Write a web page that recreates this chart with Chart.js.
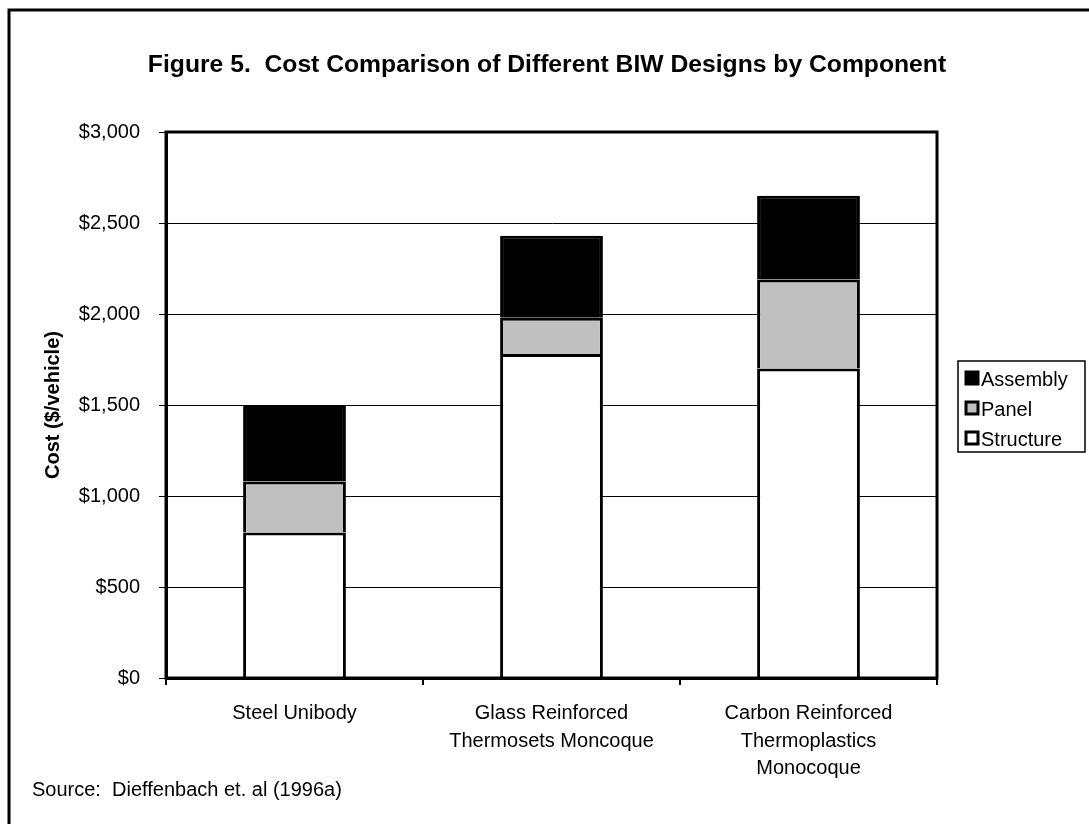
<!DOCTYPE html>
<html>
<head>
<meta charset="utf-8">
<title>Figure 5</title>
<script src="https://cdn.jsdelivr.net/npm/chart.js@4/dist/chart.umd.min.js"></script>
<style>
  body { margin: 0; background: #fff; }
  #chart { display: block; }
</style>
</head>
<body>
<canvas id="chart" width="1089" height="824"></canvas>
<script>
// chart data
const designs = [
  ['Steel Unibody'],
  ['Glass Reinforced', 'Thermosets Moncoque'],
  ['Carbon Reinforced', 'Thermoplastics', 'Monocoque']
];
const structureCost = [800, 1780, 1700];
const panelCost = [280, 200, 490];
const assemblyCost = [420, 450, 460];
const yTicks = [0, 500, 1000, 1500, 2000, 2500, 3000];

const titleText = 'Figure 5.  Cost Comparison of Different BIW Designs by Component';
const sourceText = 'Source:  Dieffenbach et. al (1996a)';
const FONT = '"Liberation Sans", Arial, sans-serif';

Chart.defaults.font.family = FONT;
Chart.defaults.color = '#000';

// frame, title, source note, plot box and legend drawn on the canvas
const decorations = {
  id: 'decorations',
  afterDraw(chart) {
    const ctx = chart.ctx;
    const area = chart.chartArea;
    ctx.save();

    // outer frame (only top and left edges fall inside the picture)
    ctx.strokeStyle = '#000';
    ctx.lineWidth = 3;
    ctx.beginPath();
    ctx.moveTo(9, chart.height);
    ctx.lineTo(9, 10);
    ctx.lineTo(chart.width, 10);
    ctx.stroke();

    // plot box
    ctx.lineWidth = 3;
    ctx.strokeRect(area.left, area.top, area.right - area.left, area.bottom - area.top);

    // title
    ctx.fillStyle = '#000';
    ctx.font = 'bold 24.7px ' + FONT;
    ctx.textAlign = 'center';
    ctx.textBaseline = 'alphabetic';
    ctx.fillText(titleText, 547, 72);

    // source
    ctx.font = '20px ' + FONT;
    ctx.textAlign = 'left';
    ctx.textBaseline = 'middle';
    ctx.fillText(sourceText, 32, 790);

    // legend, reverse order like the stack
    const items = chart.data.datasets.slice().reverse();
    const boxLeft = 958, boxRight = 1085, rowH = 30, firstY = 378;
    const boxTop = firstY - 17, boxBottom = firstY + rowH * (items.length - 1) + 14;
    ctx.lineWidth = 1.5;
    ctx.strokeRect(boxLeft, boxTop, boxRight - boxLeft, boxBottom - boxTop);
    items.forEach((ds, i) => {
      const cy = firstY + i * rowH;
      ctx.fillStyle = ds.backgroundColor;
      ctx.fillRect(966, cy - 6, 12, 12);
      ctx.lineWidth = 3;
      ctx.strokeStyle = '#000';
      ctx.strokeRect(966, cy - 6, 12, 12);
      ctx.fillStyle = '#000';
      ctx.font = '20px ' + FONT;
      ctx.fillText(ds.label, 981, cy + 2);
    });

    ctx.restore();
  }
};

new Chart(document.getElementById('chart'), {
  type: 'bar',
  data: {
    labels: designs,
    datasets: [
      { label: 'Structure', data: structureCost, backgroundColor: '#ffffff' },
      { label: 'Panel', data: panelCost, backgroundColor: '#c0c0c0' },
      { label: 'Assembly', data: assemblyCost, backgroundColor: '#000000' }
    ]
  },
  options: {
    responsive: false,
    devicePixelRatio: 1,
    animation: false,
    layout: { padding: { left: 8, right: 152, top: 132, bottom: 0 } },
    datasets: {
      bar: {
        borderColor: '#000',
        borderWidth: 3,
        barPercentage: 0.4,
        categoryPercentage: 1
      }
    },
    plugins: {
      legend: { display: false },
      tooltip: { enabled: false }
    },
    scales: {
      x: {
        stacked: true,
        afterFit(scale) { scale.height = 146; },
        grid: {
          offset: true,
          drawOnChartArea: false,
          drawTicks: true,
          tickLength: 7,
          color: '#000',
          lineWidth: 2
        },
        border: { display: true, color: '#000', width: 3 },
        ticks: {
          font: { size: 20, lineHeight: 1.375 },
          color: '#000',
          padding: 15,
          maxRotation: 0,
          autoSkip: false
        }
      },
      y: {
        stacked: true,
        min: 0,
        max: 3000,
        afterFit(scale) { scale.width = 158; },
        afterBuildTicks(scale) { scale.ticks = yTicks.map(v => ({ value: v })); },
        grid: {
          color: '#000',
          lineWidth: 1,
          drawTicks: true,
          tickLength: 7
        },
        border: { display: true, color: '#000', width: 3 },
        ticks: {
          font: { size: 20 },
          color: '#000',
          padding: 19,
          callback: v => '$' + v.toLocaleString('en-US')
        },
        title: {
          display: true,
          text: 'Cost ($/vehicle)',
          font: { size: 20, weight: 'bold' },
          color: '#000',
          padding: { top: 33, bottom: 0 }
        }
      }
    }
  },
  plugins: [decorations]
});
</script>
</body>
</html>
